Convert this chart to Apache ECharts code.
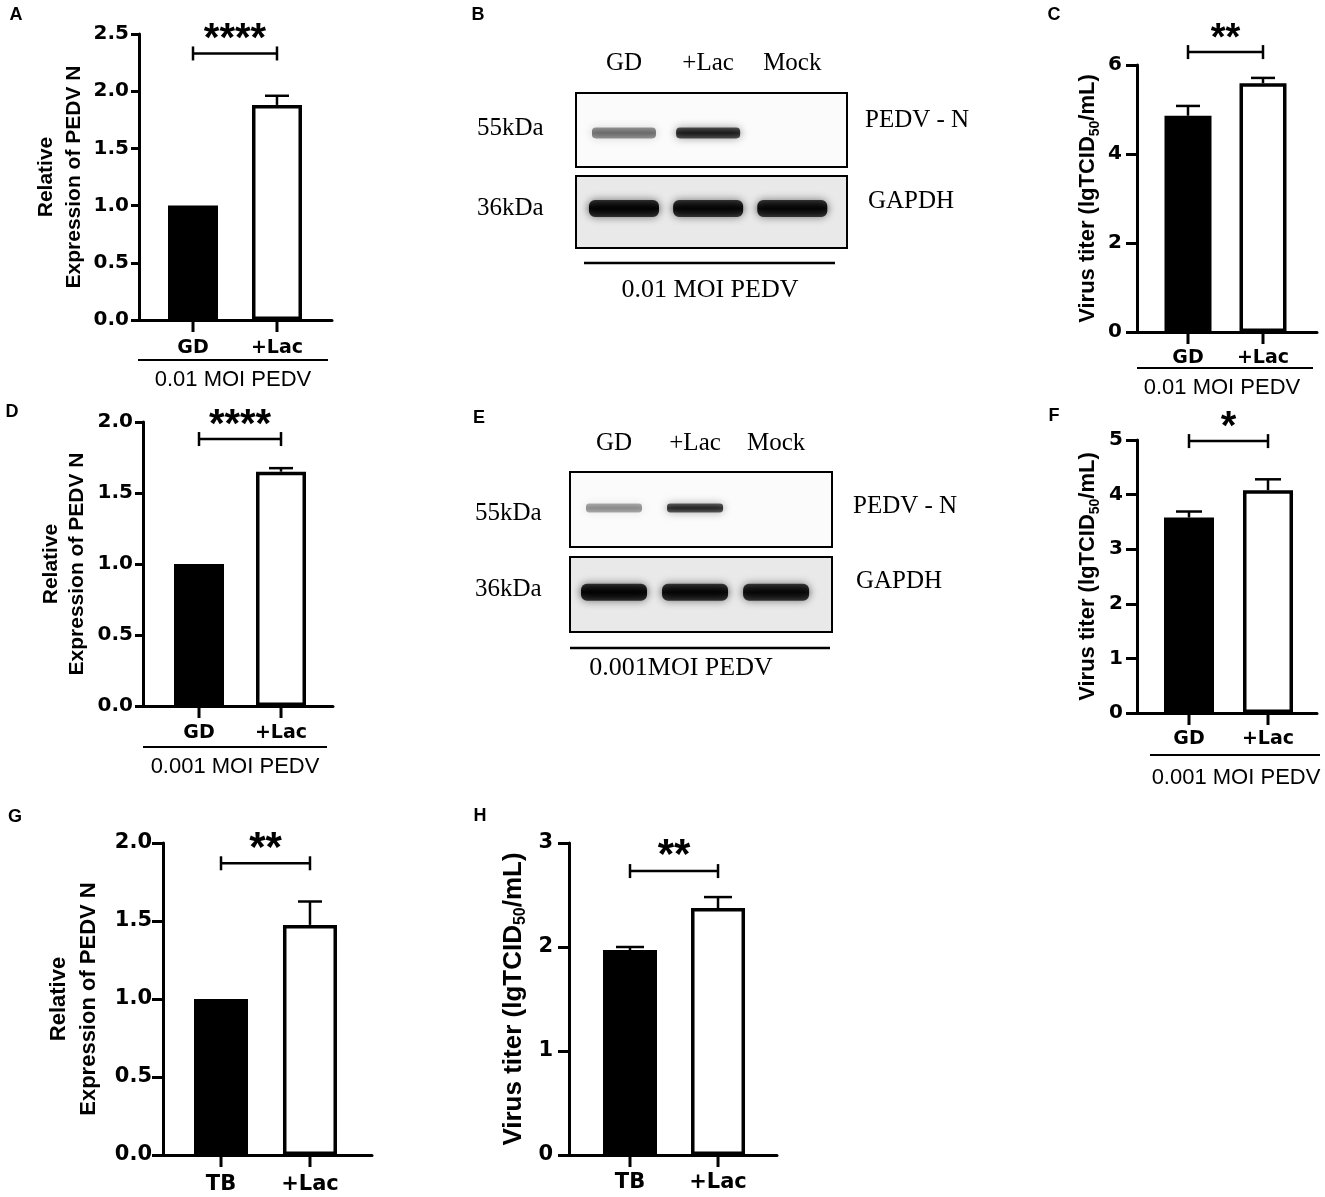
<!DOCTYPE html>
<html>
<head>
<meta charset="utf-8">
<title>PEDV N expression and virus titer</title>
<script src="https://cdn.jsdelivr.net/npm/echarts@6.0.0/dist/echarts.min.js"></script>
<style>
  html, body { margin: 0; padding: 0; background: #fff; }
  #chart { width: 1325px; height: 1197px; }
</style>
</head>
<body>
<div id="chart"></div>
<script>
// ---- data ----
const groupsGD = ['GD', '+Lac'];
const groupsTB = ['TB', '+Lac'];
const lanes = ['GD', '+Lac', 'Mock'];

// A: relative PEDV N, 0.01 MOI
const meanA = [1.0, 1.88];
const sdA = [0, 0.08];
const ticksA = [0, 0.5, 1.0, 1.5, 2.0, 2.5];
const sigA = [2.33, '****'];

// C: virus titer, 0.01 MOI
const meanC = [4.86, 5.59];
const sdC = [0.22, 0.12];
const ticksC = [0, 2, 4, 6];
const sigC = [6.29, '**'];

// D: relative PEDV N, 0.001 MOI
const meanD = [1.0, 1.65];
const sdD = [0, 0.025];
const ticksD = [0, 0.5, 1.0, 1.5, 2.0];
const sigD = [1.88, '****'];

// F: virus titer, 0.001 MOI
const meanF = [3.58, 4.08];
const sdF = [0.11, 0.2];
const ticksF = [0, 1, 2, 3, 4, 5];
const sigF = [4.98, '*'];

// G: relative PEDV N, TB strain
const meanG = [1.0, 1.475];
const sdG = [0, 0.15];
const ticksG = [0, 0.5, 1.0, 1.5, 2.0];
const sigG = [1.87, '**'];

// H: virus titer, TB strain
const meanH = [1.97, 2.375];
const sdH = [0.03, 0.105];
const ticksH = [0, 1, 2, 3];
const sigH = [2.73, '**'];

// western blot band intensities (0 = no band)
const bandsB_N = [0.5, 0.82, 0];
const bandsB_GAPDH = [0.97, 0.95, 0.95];
const bandsE_N = [0.4, 0.78, 0];
const bandsE_GAPDH = [0.97, 0.95, 0.93];

const relName = 'Relative\nExpression of PEDV N';
const titerName = 'Virus titer (lgTCID{sub|50}/mL)';

const SANS = 'Liberation Sans';
const WIDE = 'DejaVu Sans';
const SERIF = 'Liberation Serif';

const option = {
  animation: false,
  backgroundColor: '#fff',
  grid: [],
  xAxis: [],
  yAxis: [],
  series: [],
  graphic: []
};

function txt(text, x, y, font, align) {
  option.graphic.push({
    type: 'text', x: x, y: y, silent: true,
    style: {
      text: text, font: font, fill: '#000',
      align: align || 'center', verticalAlign: 'middle',
      textAlign: align || 'center', textVerticalAlign: 'middle'
    }
  });
}

function hline(x1, x2, y, w) {
  option.graphic.push({
    type: 'line', silent: true,
    shape: { x1: x1, y1: y, x2: x2, y2: y },
    style: { stroke: '#000', lineWidth: w || 2 }
  });
}

// one bar panel: two bars, error bars, category ticks/labels, bracket + stars
function addBarPanel(p) {
  const gi = option.grid.length;
  const t = p.ticks;
  option.grid.push({ left: p.left, top: p.top, width: p.width, height: p.height });

  option.xAxis.push({
    type: 'value', gridIndex: gi, min: p.xMin, max: p.xMax,
    axisLine: { show: true, onZero: false, lineStyle: { color: '#000', width: 3 } },
    axisTick: { show: false },
    axisLabel: { show: false },
    splitLine: { show: false }
  });

  option.yAxis.push({
    type: 'value', gridIndex: gi,
    min: t[0], max: t[t.length - 1], interval: t[1] - t[0],
    axisLine: { show: true, onZero: false, lineStyle: { color: '#000', width: 3 } },
    axisTick: { show: true, length: p.yTick, lineStyle: { color: '#000', width: 3 } },
    axisLabel: {
      color: '#000', fontFamily: WIDE, fontWeight: 'bold', fontSize: p.tickFont,
      margin: p.labelMargin,
      formatter: v => v.toFixed(p.decimals)
    },
    splitLine: { show: false },
    name: p.yName,
    nameLocation: 'middle',
    nameRotate: 90,
    nameGap: p.nameGap,
    nameTextStyle: {
      color: '#000', fontFamily: SANS, fontWeight: 'bold',
      fontSize: p.nameFont, lineHeight: p.nameLine,
      rich: {
        sub: {
          color: '#000', fontFamily: SANS, fontWeight: 'bold',
          fontSize: Math.round(p.nameFont * 0.62),
          lineHeight: Math.round(p.nameFont * 0.62),
          verticalAlign: 'bottom'
        }
      }
    }
  });

  option.series.push({
    type: 'bar', xAxisIndex: gi, yAxisIndex: gi, silent: true,
    barWidth: p.barWidth,
    data: p.mean.map((v, i) => ({
      value: [i, v],
      itemStyle: { color: i === 0 ? '#000' : '#fff' }
    })),
    itemStyle: { borderColor: '#000', borderWidth: 3.5 }
  });

  // error bars (mean + SD), category tick and label
  option.series.push({
    type: 'custom', xAxisIndex: gi, yAxisIndex: gi, silent: true,
    data: p.mean.map((v, i) => [i, v, p.sd[i]]),
    renderItem: function (params, api) {
      const i = api.value(0), m = api.value(1), s = api.value(2);
      const base = api.coord([i, t[0]]);
      const kids = [
        { type: 'line', shape: { x1: base[0], y1: base[1], x2: base[0], y2: base[1] + 12 },
          style: { stroke: '#000', lineWidth: 3 } },
        { type: 'text',
          style: { text: p.cats[i], x: base[0], y: base[1] + p.catGap, fill: '#000',
            font: 'bold ' + p.catFont + 'px "' + WIDE + '"',
            align: 'center', verticalAlign: 'middle' } }
      ];
      if (s > 0) {
        const a = api.coord([i, m]);
        const b = api.coord([i, m + s]);
        kids.push({ type: 'line', shape: { x1: a[0], y1: a[1], x2: b[0], y2: b[1] },
          style: { stroke: '#000', lineWidth: 2.5 } });
        kids.push({ type: 'line', shape: { x1: b[0] - p.cap, y1: b[1], x2: b[0] + p.cap, y2: b[1] },
          style: { stroke: '#000', lineWidth: 2.5 } });
      }
      return { type: 'group', children: kids };
    }
  });

  // significance bracket
  option.series.push({
    type: 'custom', xAxisIndex: gi, yAxisIndex: gi, silent: true,
    data: [[0, 1, p.sig[0]]],
    renderItem: function (params, api) {
      const a = api.coord([api.value(0), api.value(2)]);
      const b = api.coord([api.value(1), api.value(2)]);
      const ln = { stroke: '#000', lineWidth: 2.5 };
      return {
        type: 'group',
        children: [
          { type: 'line', shape: { x1: a[0], y1: a[1], x2: b[0], y2: b[1] }, style: ln },
          { type: 'line', shape: { x1: a[0], y1: a[1] - 7, x2: a[0], y2: a[1] + 7 }, style: ln },
          { type: 'line', shape: { x1: b[0], y1: b[1] - 7, x2: b[0], y2: b[1] + 7 }, style: ln },
          { type: 'text',
            style: { text: p.sig[1], x: (a[0] + b[0]) / 2,
              y: a[1] - p.starGap + 0.16 * p.starFont, fill: '#000',
              font: 'bold ' + p.starFont + 'px "' + SANS + '"',
              align: 'center', verticalAlign: 'middle' } }
        ]
      };
    }
  });
}

// one blot strip: bordered box with bands per lane
function addBlotRow(r) {
  const gi = option.grid.length;
  option.grid.push({
    left: r.left, top: r.top, width: r.width, height: r.height,
    show: true, backgroundColor: r.bg, borderColor: '#000', borderWidth: 2
  });
  option.xAxis.push({ type: 'value', gridIndex: gi, min: r.xMin, max: r.xMax, show: false });
  option.yAxis.push({ type: 'value', gridIndex: gi, min: 0, max: 1, show: false });
  option.series.push({
    type: 'custom', xAxisIndex: gi, yAxisIndex: gi, silent: true,
    data: r.bands.map((v, i) => [i, v]),
    renderItem: function (params, api) {
      const a = api.value(1);
      if (a <= 0) return null;
      const c = api.coord([api.value(0), r.bandY]);
      const col = 'rgba(0,0,0,' + a + ')';
      const soft = 'rgba(0,0,0,' + (a * 0.75).toFixed(2) + ')';
      return {
        type: 'rect',
        shape: { x: c[0] - r.bandW / 2, y: c[1] - r.bandH / 2, width: r.bandW, height: r.bandH, r: r.bandH * 0.35 },
        style: {
          fill: {
            type: 'linear', x: 0, y: 0, x2: 0, y2: 1,
            colorStops: [
              { offset: 0, color: soft },
              { offset: 0.5, color: col },
              { offset: 1, color: soft }
            ]
          },
          shadowBlur: 8, shadowColor: soft
        }
      };
    }
  });
  if (r.laneGap) {
    option.series.push({
      type: 'custom', xAxisIndex: gi, yAxisIndex: gi, silent: true,
      data: lanes.map((l, i) => [i]),
      renderItem: function (params, api) {
        const c = api.coord([api.value(0), 1]);
        return {
          type: 'text',
          style: { text: lanes[params.dataIndex], x: c[0], y: c[1] - r.laneGap, fill: '#000',
            font: '25px "' + SERIF + '"', align: 'center', verticalAlign: 'middle' }
        };
      }
    });
  }
}

// ---- panels ----
addBarPanel({
  left: 139, top: 34, width: 193, height: 286, xMin: -0.643, xMax: 1.655,
  mean: meanA, sd: sdA, ticks: ticksA, sig: sigA, cats: groupsGD, decimals: 1,
  barWidth: 50, cap: 12, yTick: 8, labelMargin: 10, tickFont: 20, catFont: 19, catGap: 28,
  starFont: 40, starGap: 20, yName: relName, nameFont: 21, nameLine: 28, nameGap: 51
});
addBarPanel({
  left: 1137, top: 65, width: 180, height: 267, xMin: -0.68, xMax: 1.72,
  mean: meanC, sd: sdC, ticks: ticksC, sig: sigC, cats: groupsGD, decimals: 0,
  barWidth: 47, cap: 12, yTick: 11, labelMargin: 15, tickFont: 20, catFont: 19, catGap: 26,
  starFont: 38, starGap: 19, yName: titerName, nameFont: 22, nameLine: 28, nameGap: 35
});
addBarPanel({
  left: 143, top: 422, width: 190, height: 284, xMin: -0.683, xMax: 1.634,
  mean: meanD, sd: sdD, ticks: ticksD, sig: sigD, cats: groupsGD, decimals: 1,
  barWidth: 50, cap: 12, yTick: 8, labelMargin: 10, tickFont: 20, catFont: 19, catGap: 27,
  starFont: 40, starGap: 19, yName: relName, nameFont: 21, nameLine: 26, nameGap: 53
});
addBarPanel({
  left: 1137, top: 440, width: 180, height: 273, xMin: -0.658, xMax: 1.62,
  mean: meanF, sd: sdF, ticks: ticksF, sig: sigF, cats: groupsGD, decimals: 0,
  barWidth: 50, cap: 13, yTick: 11, labelMargin: 14, tickFont: 20, catFont: 19, catGap: 26,
  starFont: 40, starGap: 20, yName: titerName, nameFont: 22, nameLine: 28, nameGap: 35
});
addBarPanel({
  left: 163, top: 843, width: 209, height: 312, xMin: -0.652, xMax: 1.697,
  mean: meanG, sd: sdG, ticks: ticksG, sig: sigG, cats: groupsTB, decimals: 1,
  barWidth: 54, cap: 12, yTick: 11, labelMargin: 11, tickFont: 21, catFont: 21, catGap: 30,
  starFont: 42, starGap: 21, yName: relName, nameFont: 22, nameLine: 30, nameGap: 59
});
addBarPanel({
  left: 569, top: 843, width: 208, height: 312, xMin: -0.693, xMax: 1.67,
  mean: meanH, sd: sdH, ticks: ticksH, sig: sigH, cats: groupsTB, decimals: 0,
  barWidth: 54, cap: 14, yTick: 11, labelMargin: 16, tickFont: 21, catFont: 21, catGap: 28,
  starFont: 42, starGap: 21, yName: titerName, nameFont: 26, nameLine: 30, nameGap: 40
});

// blots B and E
addBlotRow({ left: 576, top: 93, width: 271, height: 74, xMin: -0.57, xMax: 2.65,
  bands: bandsB_N, bg: '#fbfbfb', bandY: 0.46, bandW: 64, bandH: 11, laneGap: 30 });
addBlotRow({ left: 576, top: 176, width: 271, height: 72, xMin: -0.57, xMax: 2.65,
  bands: bandsB_GAPDH, bg: '#e9e9e9', bandY: 0.55, bandW: 70, bandH: 17 });
addBlotRow({ left: 570, top: 472, width: 262, height: 75, xMin: -0.543, xMax: 2.69,
  bands: bandsE_N, bg: '#fbfbfb', bandY: 0.52, bandW: 56, bandH: 9, laneGap: 29 });
addBlotRow({ left: 570, top: 557, width: 262, height: 75, xMin: -0.543, xMax: 2.69,
  bands: bandsE_GAPDH, bg: '#e9e9e9', bandY: 0.53, bandW: 66, bandH: 17 });

// ---- annotations ----
const letter = 'bold 18px "' + SANS + '"';
txt('A', 16, 15, letter);
txt('B', 478, 15, letter);
txt('C', 1054, 15, letter);
txt('D', 12, 412, letter);
txt('E', 479, 418, letter);
txt('F', 1054, 416, letter);
txt('G', 15, 817, letter);
txt('H', 480, 816, letter);

const moi = '22px "' + SANS + '"';
hline(138, 328, 360);
txt('0.01 MOI PEDV', 233, 380, moi);
hline(1137, 1313, 368);
txt('0.01 MOI PEDV', 1222, 388, moi);
hline(143, 327, 747);
txt('0.001 MOI PEDV', 235, 767, moi);
hline(1150, 1320, 755);
txt('0.001 MOI PEDV', 1236, 778, moi);

const serif = '25px "' + SERIF + '"';
txt('55kDa', 477, 128, serif, 'left');
txt('36kDa', 477, 208, serif, 'left');
txt('PEDV - N', 865, 120, serif, 'left');
txt('GAPDH', 868, 201, serif, 'left');
hline(584, 835, 263, 2.5);
txt('0.01 MOI PEDV', 710, 290, '26px "' + SERIF + '"');

txt('55kDa', 475, 513, serif, 'left');
txt('36kDa', 475, 589, serif, 'left');
txt('PEDV - N', 853, 506, serif, 'left');
txt('GAPDH', 856, 581, serif, 'left');
hline(570, 830, 648, 2.5);
txt('0.001MOI PEDV', 681, 668, '26px "' + SERIF + '"');

const chart = echarts.init(document.getElementById('chart'));
chart.setOption(option);
</script>
</body>
</html>
